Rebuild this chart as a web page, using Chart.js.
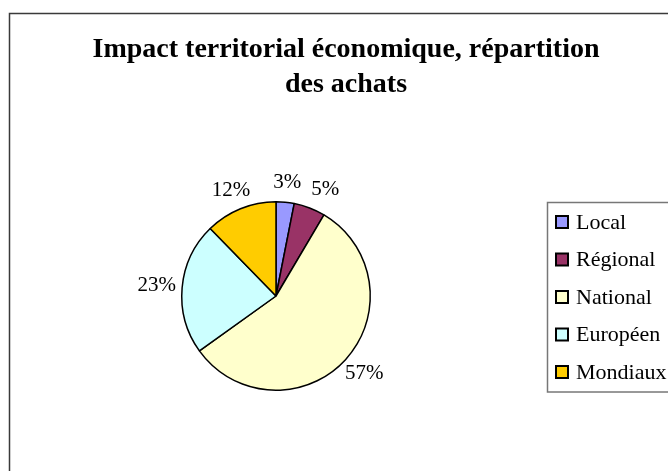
<!DOCTYPE html>
<html>
<head>
<meta charset="utf-8">
<script src="https://cdn.jsdelivr.net/npm/chart.js@4"></script>
<style>
  body { margin: 0; background: #fff; }
  canvas { display: block; }
</style>
</head>
<body>
<canvas id="myChart" width="668" height="471"></canvas>
<script>
// Données du graphique
const titre = ['Impact territorial économique, répartition', 'des achats'];
const categories = ['Local', 'Régional', 'National', 'Européen', 'Mondiaux'];
const valeurs = [3.1, 5.4, 56.6, 22.6, 12.3];
const couleurs = ['#9999FF', '#993366', '#FFFFCC', '#CCFFFF', '#FFCC00'];

const police = '"Liberation Serif", "Times New Roman", serif';

// Cadre autour du graphique + fond blanc
const cadre = {
  id: 'cadre',
  beforeDraw(chart) {
    const c = chart.ctx;
    c.save();
    c.fillStyle = '#fff';
    c.fillRect(0, 0, chart.width, chart.height);
    c.strokeStyle = '#3a3a3a';
    c.lineWidth = 1.5;
    c.strokeRect(9.5, 13.5, 720, 520);
    c.restore();
  }
};

// Titre sur deux lignes
const titrePlugin = {
  id: 'titrePlugin',
  afterDraw(chart) {
    const c = chart.ctx;
    c.save();
    c.font = 'bold 28px ' + police;
    c.fillStyle = '#000';
    c.textAlign = 'center';
    c.textBaseline = 'alphabetic';
    c.fillText(titre[0], 346, 57);
    c.fillText(titre[1], 346, 91.5);
    c.restore();
  }
};

// Étiquettes de pourcentage à l'extérieur des parts
const etiquettes = {
  id: 'etiquettes',
  afterDatasetsDraw(chart) {
    const c = chart.ctx;
    const meta = chart.getDatasetMeta(0);
    const total = valeurs.reduce((a, b) => a + b, 0);
    c.save();
    c.font = '21px ' + police;
    c.fillStyle = '#000';
    c.textAlign = 'center';
    c.textBaseline = 'middle';
    let precedent = null;
    meta.data.forEach((arc, i) => {
      const p = arc.getProps(['x', 'y', 'startAngle', 'endAngle', 'outerRadius'], true);
      const milieu = (p.startAngle + p.endAngle) / 2;
      const texte = Math.round(valeurs[i] / total * 100) + '%';
      const demiL = c.measureText(texte).width / 2;
      const dx = Math.cos(milieu), dy = Math.sin(milieu);
      const d = p.outerRadius + 12;
      let x = p.x + dx * d + dx * demiL * 0.7;
      const y = p.y + dy * d + dy * 8;
      // on écarte les étiquettes qui se touchent
      if (precedent && Math.abs(y - precedent.y) < 20 && x - demiL < precedent.droite + 10 && x > precedent.x) {
        x = precedent.droite + 10 + demiL;
      }
      c.fillText(texte, x, y);
      precedent = { x: x, y: y, droite: x + demiL };
    });
    c.restore();
  }
};

// Légende dans un cadre à droite
const legende = {
  id: 'legende',
  afterDraw(chart) {
    const c = chart.ctx;
    const ds = chart.data.datasets[0];
    c.save();
    c.strokeStyle = '#777';
    c.lineWidth = 1.5;
    c.strokeRect(547.5, 202.5, 200, 189.5);
    c.font = '22px ' + police;
    c.textAlign = 'left';
    c.textBaseline = 'middle';
    chart.data.labels.forEach((lab, i) => {
      const y = 222 + i * 37.5;
      c.fillStyle = ds.backgroundColor[i];
      c.fillRect(556, y - 6, 12, 12);
      c.strokeStyle = '#000';
      c.lineWidth = 2;
      c.strokeRect(556, y - 6, 12, 12);
      c.fillStyle = '#000';
      c.fillText(lab, 576, y + 1);
    });
    c.restore();
  }
};

const ctx = document.getElementById('myChart').getContext('2d');

const myChart = new Chart(ctx, {
  type: 'pie',
  data: {
    labels: categories,
    datasets: [{
      data: valeurs,
      backgroundColor: couleurs,
      borderColor: '#000',
      borderWidth: 1.5
    }]
  },
  options: {
    responsive: false,
    animation: false,
    events: [],
    layout: {
      padding: { left: 181, right: 297, top: 201, bottom: 80 }
    },
    plugins: {
      legend: { display: false },
      title: { display: false },
      tooltip: { enabled: false }
    }
  },
  plugins: [cadre, titrePlugin, etiquettes, legende]
});
</script>
</body>
</html>
